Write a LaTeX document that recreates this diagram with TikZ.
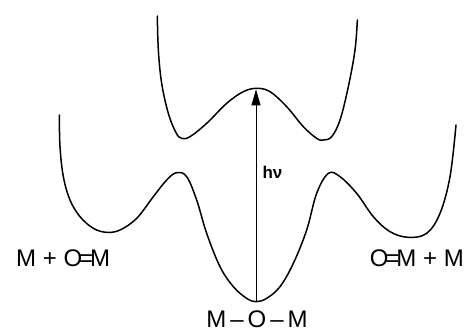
\documentclass[tikz,border=0pt]{standalone}
\usepackage{fontspec}
\setmainfont{Liberation Sans}
\usetikzlibrary{arrows.meta}
\begin{document}
\begin{tikzpicture}[x=0.33333pt,y=-0.33333pt,
  curve/.style={line width=1.5pt,line join=round,line cap=round},
  lbl/.style={font=\fontsize{24}{26}\selectfont,inner sep=0pt},
  photon/.style={line width=0.8pt,-{Triangle[length=16pt,width=9pt]}}]
\useasboundingbox (0,0) rectangle (1398,993);
% upper (excited-state) curve
\draw[curve] plot[smooth,tension=0.6] coordinates {
 (472,48) (475,150) (485,250) (505,340) (528,398) (545,415) (570,410)
 (620,370) (680,310) (730,275) (770,265) (810,275) (860,320) (910,380)
 (950,415) (970,420) (995,410) (1020,360) (1045,260) (1065,150) (1072,60)};
% lower (ground-state) curve
\draw[curve] plot[smooth,tension=0.6] coordinates {
 (178,345) (180,440) (190,530) (210,600) (240,650) (280,685) (320,697)
 (360,690) (410,655) (460,590) (500,540) (530,518) (560,530) (590,600)
 (620,700) (660,800) (700,860) (740,895) (768,905) (800,895) (840,860)
 (880,790) (920,690) (950,580) (985,520) (1020,530) (1070,580)
 (1120,650) (1170,695) (1225,712) (1280,700) (1320,640) (1350,530) (1368,375)};
\coordinate (bot) at (768,905);
\coordinate (top) at (768,268);
\draw[photon] (bot) -- (top);
\node[anchor=base west,inner sep=0pt,font=\fontsize{17}{19}\selectfont\bfseries] (hnu) at (787,534) {hν};
\node[lbl,anchor=base west] (left) at (48,798) {M + O\kern-3pt=\kern-3pt M};
\node[lbl,anchor=base east] (right) at (1392,798) {O\kern-3pt=\kern-3pt M + M};
\node[lbl,anchor=base] (mid) at (771,981) {M\kern4pt–\kern4pt O\kern4pt–\kern4pt M};
\end{tikzpicture}
\end{document}
